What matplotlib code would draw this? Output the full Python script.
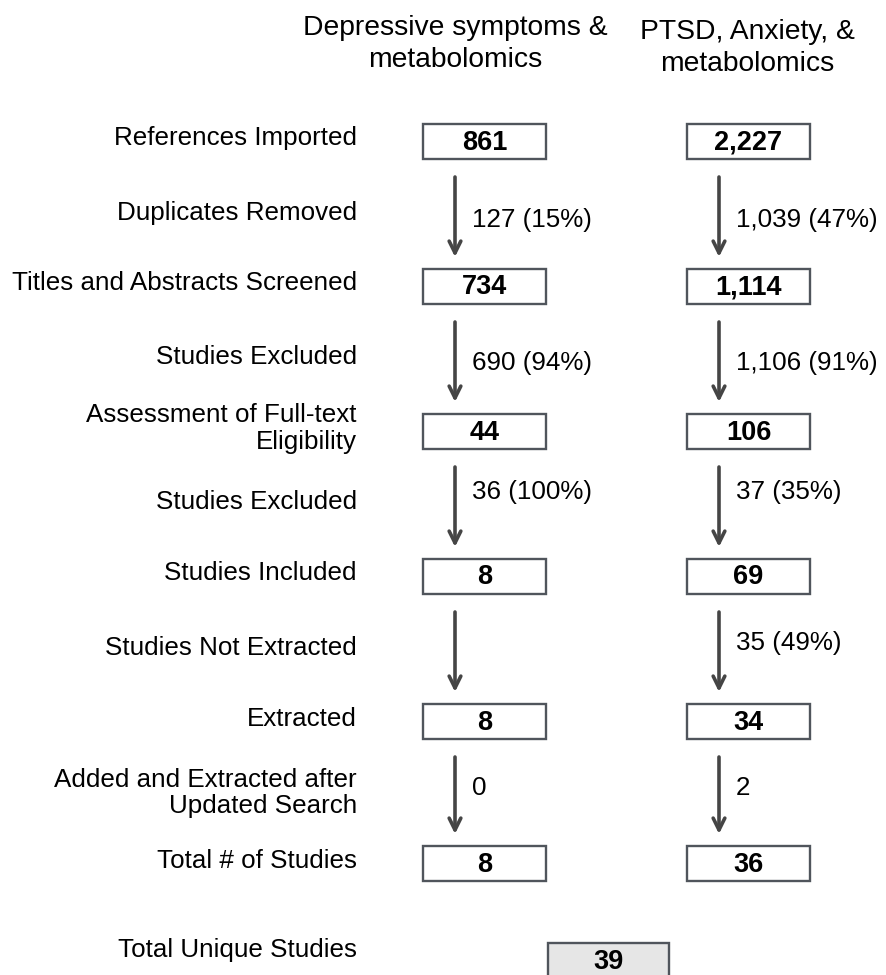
import matplotlib
matplotlib.use('Agg')
import matplotlib.pyplot as plt
from matplotlib.patches import Rectangle

plt.rcParams['font.family'] = ['Liberation Sans', 'DejaVu Sans']

# data
columns = ['Depressive symptoms &\nmetabolomics', 'PTSD, Anxiety, &\nmetabolomics']
box_labels = ['References Imported', 'Titles and Abstracts Screened',
              'Assessment of Full-text\nEligibility', 'Studies Included',
              'Extracted', 'Total # of Studies']
step_labels = ['Duplicates Removed', 'Studies Excluded', 'Studies Excluded',
               'Studies Not Extracted', 'Added and Extracted after\nUpdated Search']
dep_counts = ['861', '734', '44', '8', '8', '8']
ptsd_counts = ['2,227', '1,114', '106', '69', '34', '36']
dep_steps = ['127 (15%)', '690 (94%)', '36 (100%)', '', '0']
ptsd_steps = ['1,039 (47%)', '1,106 (91%)', '37 (35%)', '35 (49%)', '2']
total_label = 'Total Unique Studies'
total_unique = '39'

# layout (pixels)
W, H = 887, 975
row_y = [141.5, 286.5, 431.5, 576.5, 721.5, 863.5]
step_y = [213, 357, 502, 648, 793]
step_txt_y = [220, 363, 492, 643, 788]
col_x0 = [423, 687]
col_hdr = [(455, 44), (747, 48)]
bw, bh = 123, 35
arrow_dx = 32
lab_x = 357
edge = '#50555c'
arr_col = '#454545'
fs = 18.7

fig = plt.figure(figsize=(W / 100, H / 100), dpi=100)
ax = fig.add_axes([0, 0, 1, 1])
ax.set_xlim(0, W)
ax.set_ylim(H, 0)
ax.axis('off')

for (hx, hy), name in zip(col_hdr, columns):
    ax.text(hx, hy, name, ha='center', va='center', fontsize=20.3, linespacing=1.3)

for y, lab in zip(row_y, box_labels):
    ax.text(lab_x, y - 3, lab, ha='right', va='center', fontsize=fs, linespacing=1.12)
for y, lab in zip(step_y, step_labels):
    ax.text(lab_x, y, lab, ha='right', va='center', fontsize=fs, linespacing=1.12)

for x0, counts, steps in zip(col_x0, [dep_counts, ptsd_counts], [dep_steps, ptsd_steps]):
    for y, c in zip(row_y, counts):
        ax.add_patch(Rectangle((x0, y - bh / 2), bw, bh, facecolor='white',
                               edgecolor=edge, lw=1.7))
        ax.text(x0 + bw / 2, y + 1, c, ha='center', va='center', fontsize=19.5,
                fontweight='bold')
    ax_x = x0 + arrow_dx
    for i, s in enumerate(steps):
        top = row_y[i] + bh / 2 + 18
        tip = row_y[i + 1] - bh / 2 - 12
        ax.annotate('', xy=(ax_x, tip), xytext=(ax_x, top),
                    arrowprops=dict(arrowstyle='->,head_length=0.85,head_width=0.42',
                                    color=arr_col, lw=2.6, shrinkA=0, shrinkB=0))
        if s:
            ax.text(ax_x + 17, step_txt_y[i], s, ha='left', va='center', fontsize=fs)

ax.text(lab_x, 950, total_label, ha='right', va='center', fontsize=fs)
ax.add_patch(Rectangle((548, 943), 121, 36, facecolor='#e6e6e6',
                       edgecolor=edge, lw=1.7, clip_on=False))
ax.text(608.5, 962, total_unique, ha='center', va='center', fontsize=19.5,
        fontweight='bold')

fig.savefig('out.png', dpi=100)
